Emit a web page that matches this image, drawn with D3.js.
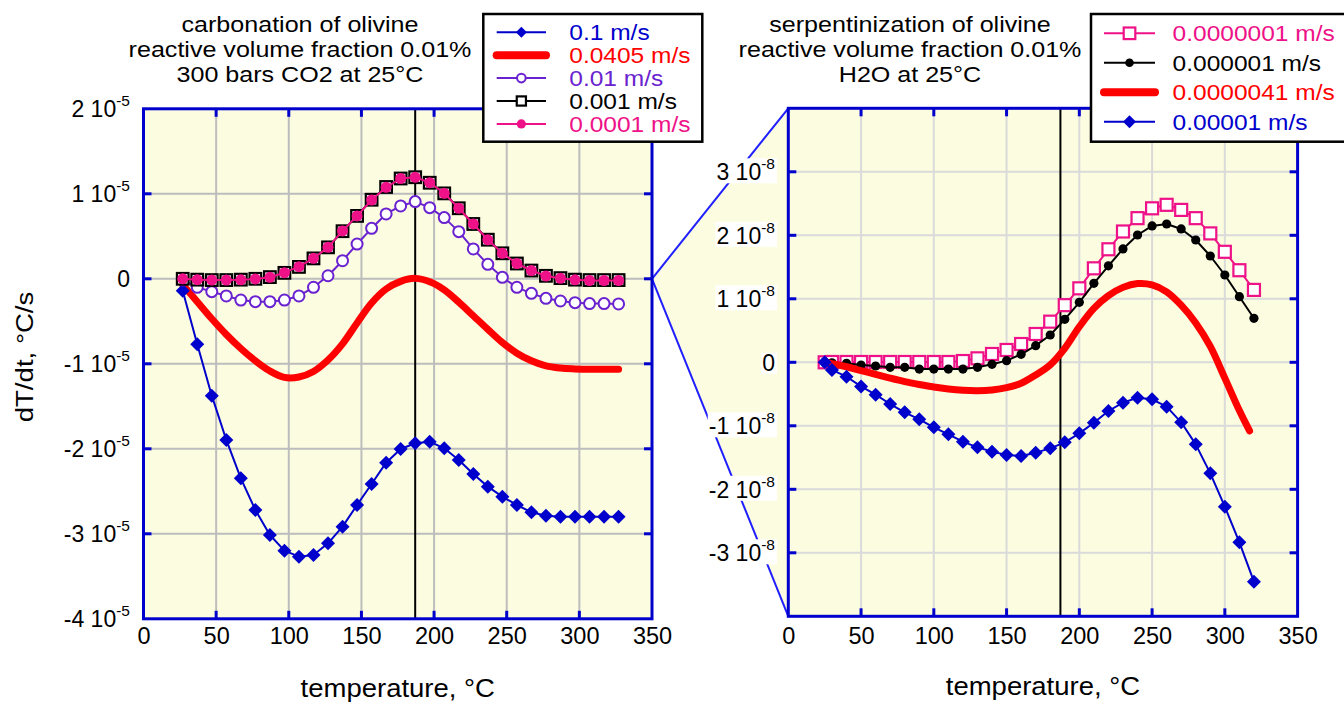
<!DOCTYPE html>
<html><head><meta charset="utf-8">
<script src="https://cdn.jsdelivr.net/npm/d3@7"></script>
<style>
body{margin:0;background:#fff}
svg{display:block}
text{font-family:"Liberation Sans",Arial,Helvetica,sans-serif}
</style>
</head><body>
<svg id="c" width="1344" height="705"></svg>
<script>
// ---------------- DATA ----------------
// Left chart: carbonation, dT/dt in units of 1e-5 °C/s
const tempLeft = [27,37,47,57,67,77,87,97,107,117,127,137,147,157,167,177,187,197,207,217,227,237,247,257,267,277,287,297,307,317,327];
const left_0p1    = [-0.14,-0.77,-1.375,-1.896,-2.347,-2.72,-3.014,-3.198,-3.269,-3.249,-3.112,-2.916,-2.661,-2.414,-2.163,-2.002,-1.935,-1.916,-1.994,-2.132,-2.296,-2.445,-2.563,-2.661,-2.747,-2.787,-2.798,-2.80,-2.80,-2.80,-2.80];
const left_0p0405 = [-0.07,-0.27,-0.47,-0.655,-0.82,-0.965,-1.085,-1.16,-1.155,-1.09,-0.955,-0.765,-0.52,-0.285,-0.12,-0.03,0.005,-0.035,-0.13,-0.275,-0.435,-0.595,-0.75,-0.875,-0.965,-1.025,-1.05,-1.06,-1.065,-1.065,-1.065];
const left_0p01   = [-0.014,-0.10,-0.151,-0.202,-0.25,-0.269,-0.269,-0.25,-0.202,-0.10,0.036,0.213,0.409,0.594,0.763,0.857,0.908,0.837,0.72,0.555,0.351,0.17,0.017,-0.10,-0.171,-0.23,-0.261,-0.281,-0.292,-0.292,-0.296];
const left_0p001  = [0,-0.01,-0.015,-0.015,-0.01,0,0.02,0.07,0.14,0.24,0.37,0.56,0.74,0.93,1.08,1.18,1.195,1.13,1.005,0.83,0.645,0.46,0.30,0.18,0.097,0.035,0.008,-0.01,-0.015,-0.015,-0.015];
const left_0p0001 = [0,-0.01,-0.015,-0.015,-0.012,-0.002,0.018,0.072,0.143,0.241,0.37,0.563,0.74,0.927,1.076,1.18,1.194,1.131,1.006,0.83,0.645,0.459,0.30,0.18,0.097,0.033,0.006,-0.012,-0.02,-0.02,-0.02];

// Right chart: serpentinization, dT/dt in units of 1e-8 °C/s
const tempRight = [25,30,40,50,60,70,80,90,100,110,120,130,140,150,160,170,180,190,200,210,220,230,240,250,260,270,280,290,300,310,320];
const tempRightRed = [25,30,40,50,60,70,80,90,100,110,120,130,140,150,160,170,180,190,200,210,220,230,240,250,260,270,280,290,300,310,317];
const right_1e7   = [0,0.005,0.005,0.005,0.005,0.005,0.005,0.005,0.005,0.005,0.02,0.0625,0.131,0.194,0.288,0.446,0.64,0.90,1.165,1.48,1.78,2.06,2.27,2.425,2.48,2.40,2.27,2.03,1.74,1.45,1.14];
const right_1e6   = [0,-0.008,-0.016,-0.043,-0.058,-0.079,-0.079,-0.106,-0.106,-0.106,-0.106,-0.079,-0.032,0.026,0.126,0.262,0.43,0.677,0.945,1.244,1.52,1.785,2.005,2.147,2.178,2.10,1.926,1.674,1.375,1.033,0.693];
const right_4p1e6 = [0,-0.02,-0.07,-0.13,-0.19,-0.25,-0.305,-0.35,-0.39,-0.42,-0.44,-0.447,-0.435,-0.40,-0.33,-0.20,-0.04,0.22,0.56,0.85,1.05,1.18,1.24,1.22,1.11,0.90,0.62,0.25,-0.25,-0.76,-1.08];
const right_1e5   = [0,-0.12,-0.227,-0.38,-0.51,-0.657,-0.788,-0.898,-1.024,-1.134,-1.25,-1.339,-1.407,-1.46,-1.476,-1.423,-1.355,-1.26,-1.119,-0.951,-0.767,-0.636,-0.557,-0.583,-0.699,-0.945,-1.292,-1.749,-2.274,-2.835,-3.455];

const xTicks = [0,50,100,150,200,250,300,350];
const yTicksLeft = [-4,-3,-2,-1,0,1,2];
const yTicksRight = [-4,-3,-2,-1,0,1,2,3,4];
const yLabelsRight = [-3,-2,-1,0,1,2,3];
const markerTemp = 187;

const legendLeftLabels = ["0.1 m/s","0.0405 m/s","0.01 m/s","0.001 m/s","0.0001 m/s"];
const legendRightLabels = ["0.0000001 m/s","0.000001 m/s","0.0000041 m/s","0.00001 m/s"];
const titleLeft = ["carbonation of olivine","reactive volume fraction 0.01%","300 bars CO2 at 25°C"];
const titleRight = ["serpentinization of olivine","reactive volume fraction 0.01%","H2O at 25°C"];

// ---------------- STYLE ----------------
const BG = "#fcfce1";
const FRAME = "#0000cc";
const C_BLUE = "#0000cc", C_RED = "#ff0000", C_PURPLE = "#6a22d0", C_PINK = "#ee1188";

const svg = d3.select("#c");

function addText(g, x, y, str, size, opt = {}) {
  return g.append("text")
    .attr("transform", `translate(${x},${y})${opt.rot ? ` rotate(${opt.rot})` : ""} scale(${opt.sx || 1},1)`)
    .attr("font-size", size)
    .attr("text-anchor", opt.anchor || "start")
    .attr("fill", opt.fill || "#000")
    .text(str);
}

function marker(g, type, cx, cy, color, s) {
  if (type === "diamond") {
    g.append("path").attr("d", `M${cx},${cy - s}L${cx + s},${cy}L${cx},${cy + s}L${cx - s},${cy}Z`).attr("fill", color);
  } else if (type === "ocircle") {
    g.append("circle").attr("cx", cx).attr("cy", cy).attr("r", s).attr("fill", "#fff").attr("stroke", color).attr("stroke-width", 2);
  } else if (type === "osquare") {
    g.append("rect").attr("x", cx - s).attr("y", cy - s).attr("width", 2 * s).attr("height", 2 * s).attr("fill", "#fff").attr("stroke", color).attr("stroke-width", 2.2);
  } else if (type === "dot") {
    g.append("circle").attr("cx", cx).attr("cy", cy).attr("r", s).attr("fill", color);
  }
}

const L = {x0: 143.5, x1: 652, y0: 108.8, y1: 618.8};
const R = {x0: 788.3, x1: 1297.6, y0: 108.3, y1: 616.3};

const xL = d3.scaleLinear([0, 350], [L.x0, L.x1]);
const yL = d3.scaleLinear([-4, 2], [L.y1, L.y0]);
const xR = d3.scaleLinear([0, 350], [R.x0, R.x1]);
const yR = d3.scaleLinear([-4, 4], [R.y1, R.y0]);

// zoom connector
const conn = svg.append("g");
conn.append("path")
  .attr("d", `M${xL(350)},${yL(0)}L${xR(0)},${yR(4)}L${xR(0)},${yR(-4)}Z`)
  .attr("fill", BG);
conn.append("line").attr("x1", xL(350)).attr("y1", yL(0)).attr("x2", xR(0)).attr("y2", yR(4)).attr("stroke", "#1f1fff").attr("stroke-width", 2);
conn.append("line").attr("x1", xL(350)).attr("y1", yL(0)).attr("x2", xR(0)).attr("y2", yR(-4)).attr("stroke", "#1f1fff").attr("stroke-width", 2);

function panel(x, y, yTicks, gridColor, series) {
  const g = svg.append("g");
  const [x0, x1] = x.range(), [y1, y0] = y.range();
  g.append("rect").attr("x", x0).attr("y", y0).attr("width", x1 - x0).attr("height", y1 - y0).attr("fill", BG);
  const innerX = xTicks.slice(1, -1), innerY = yTicks.slice(1, -1);
  g.selectAll(null).data(innerX).join("line")
    .attr("x1", d => x(d)).attr("x2", d => x(d)).attr("y1", y0).attr("y2", y1)
    .attr("stroke", gridColor).attr("stroke-width", 2);
  g.selectAll(null).data(innerY).join("line")
    .attr("y1", d => y(d)).attr("y2", d => y(d)).attr("x1", x0).attr("x2", x1)
    .attr("stroke", gridColor).attr("stroke-width", 2);
  g.append("line").attr("x1", x(markerTemp)).attr("x2", x(markerTemp)).attr("y1", y0).attr("y2", y1)
    .attr("stroke", "#000").attr("stroke-width", 2);

  series.forEach(s => {
    const pts = s.t.map((t, i) => [t, s.v[i]]);
    const line = d3.line().x(d => x(d[0])).y(d => y(d[1]));
    if (s.smooth) line.curve(d3.curveCatmullRom.alpha(0.5));
    g.append("path").attr("d", line(pts)).attr("fill", "none")
      .attr("stroke", s.color).attr("stroke-width", s.lw).attr("stroke-linecap", "round").attr("stroke-linejoin", "round");
    if (s.marker) pts.forEach(p => marker(g, s.marker, x(p[0]), y(p[1]), s.mcolor || s.color, s.ms));
  });

  g.append("rect").attr("x", x0).attr("y", y0).attr("width", x1 - x0).attr("height", y1 - y0)
    .attr("fill", "none").attr("stroke", FRAME).attr("stroke-width", 3);
  const tl = 8;
  innerX.forEach(d => {
    g.append("line").attr("x1", x(d)).attr("x2", x(d)).attr("y1", y1).attr("y2", y1 - tl).attr("stroke", FRAME).attr("stroke-width", 3);
    g.append("line").attr("x1", x(d)).attr("x2", x(d)).attr("y1", y0).attr("y2", y0 + tl).attr("stroke", FRAME).attr("stroke-width", 3);
  });
  innerY.forEach(d => {
    g.append("line").attr("y1", y(d)).attr("y2", y(d)).attr("x1", x0).attr("x2", x0 + tl).attr("stroke", FRAME).attr("stroke-width", 3);
    g.append("line").attr("y1", y(d)).attr("y2", y(d)).attr("x1", x1).attr("x2", x1 - tl).attr("stroke", FRAME).attr("stroke-width", 3);
  });
  return g;
}

panel(xL, yL, yTicksLeft, "#bdbdbd", [
  {t: tempLeft, v: left_0p0405, color: C_RED, lw: 7, smooth: true},
  {t: tempLeft, v: left_0p1, color: C_BLUE, lw: 2, marker: "diamond", ms: 7},
  {t: tempLeft, v: left_0p01, color: C_PURPLE, lw: 2, marker: "ocircle", ms: 5.5},
  {t: tempLeft, v: left_0p001, color: "#000", lw: 2, marker: "osquare", ms: 5.8},
  {t: tempLeft, v: left_0p0001, color: C_PINK, lw: 2, marker: "dot", ms: 5.5}
]);

panel(xR, yR, yTicksRight, "#dadada", [
  {t: tempRight, v: right_1e7, color: C_PINK, lw: 2, marker: "osquare", ms: 6},
  {t: tempRight, v: right_1e6, color: "#000", lw: 2, marker: "dot", ms: 4.6},
  {t: tempRightRed, v: right_4p1e6, color: C_RED, lw: 7, smooth: true},
  {t: tempRight, v: right_1e5, color: C_BLUE, lw: 2, marker: "diamond", ms: 7}
]);

// ---------------- AXES LABELS ----------------
function xAxisLabels(x, baseY) {
  const a = svg.append("g").attr("transform", `translate(0,${baseY})`)
    .call(d3.axisBottom(x).tickValues(xTicks).tickSize(0).tickPadding(0).tickFormat(d3.format("d")));
  a.select(".domain").remove();
  a.attr("font-size", 23.5).attr("font-family", null);
  a.selectAll("text").attr("y", 0).attr("dy", null).attr("fill", "#000");
}
xAxisLabels(xL, 644);
xAxisLabels(xR, 644);

function yAxisLabels(y, vals, rightX, exp, whiteBox) {
  const a = svg.append("g").attr("transform", `translate(${rightX},0)`)
    .call(d3.axisLeft(y).tickValues(vals).tickSize(0).tickPadding(0).tickFormat(""));
  a.select(".domain").remove();
  a.attr("font-size", 23).attr("font-family", null);
  a.selectAll("text").each(function (d) {
    const t = d3.select(this).attr("x", 0).attr("dy", 8).attr("fill", "#000");
    if (d === 0) { t.text("0"); }
    else {
      t.append("tspan").text(`${d} 10`);
      t.append("tspan").attr("dy", -11).attr("font-size", 15.5).text(exp);
    }
    if (whiteBox) {
      const bb = this.getBBox();
      d3.select(this.parentNode).insert("rect", "text")
        .attr("x", bb.x - 1).attr("y", bb.y + 3).attr("width", bb.width + 3).attr("height", bb.height - 5)
        .attr("fill", "#fff");
    }
  });
}
yAxisLabels(yL, yTicksLeft, 130, "-5", false);
yAxisLabels(yR, yLabelsRight, 775, "-8", true);

addText(svg, (L.x0 + L.x1) / 2, 697, "temperature, °C", 25, {anchor: "middle", sx: 1.1});
addText(svg, (R.x0 + R.x1) / 2, 695, "temperature, °C", 25, {anchor: "middle", sx: 1.1});
addText(svg, 32.5, 357, "dT/dt, °C/s", 24, {anchor: "middle", rot: -90, sx: 1.15});

// titles
titleLeft.forEach((s, i) => addText(svg, 300, 32 + 25 * i, s, 22, {anchor: "middle", sx: 1.14}));
titleRight.forEach((s, i) => addText(svg, 910, 32 + 25 * i, s, 22, {anchor: "middle", sx: 1.14}));

// ---------------- LEGENDS ----------------
function legend(box, rows, labels) {
  const g = svg.append("g");
  g.append("rect").attr("x", box.x).attr("y", box.y).attr("width", box.w).attr("height", box.h)
    .attr("fill", "#fff").attr("stroke", "#000").attr("stroke-width", 2.5);
  rows.forEach((r, i) => {
    const cy = box.r0 + i * box.dy;
    g.append("line").attr("x1", box.lx0).attr("x2", box.lx1).attr("y1", cy).attr("y2", cy)
      .attr("stroke", r.color).attr("stroke-width", r.lw).attr("stroke-linecap", r.lw > 3 ? "round" : "butt");
    if (r.marker) marker(g, r.marker, (box.lx0 + box.lx1) / 2, cy, r.color, r.ms);
    addText(g, box.tx, cy + 7.8, labels[i], 21.5, {sx: 1.14, fill: r.tcolor || r.color});
  });
}
legend({x: 483.3, y: 14, w: 219, h: 127.7, r0: 32.3, dy: 22.9, lx0: 496.7, lx1: 546, tx: 569.3}, [
  {color: C_BLUE, lw: 2, marker: "diamond", ms: 5.5},
  {color: C_RED, lw: 8},
  {color: C_PURPLE, lw: 2, marker: "ocircle", ms: 4.3},
  {color: "#000", lw: 2, marker: "osquare", ms: 4.6},
  {color: C_PINK, lw: 2, marker: "dot", ms: 4.6}
], legendLeftLabels);
legend({x: 1091, y: 14, w: 262, h: 127.7, r0: 33.3, dy: 29.5, lx0: 1104, lx1: 1155, tx: 1172.6}, [
  {color: C_PINK, lw: 2, marker: "osquare", ms: 5.8},
  {color: "#000", lw: 2, marker: "dot", ms: 4.3},
  {color: C_RED, lw: 8},
  {color: C_BLUE, lw: 2, marker: "diamond", ms: 6.5}
], legendRightLabels);
</script>
</body></html>
